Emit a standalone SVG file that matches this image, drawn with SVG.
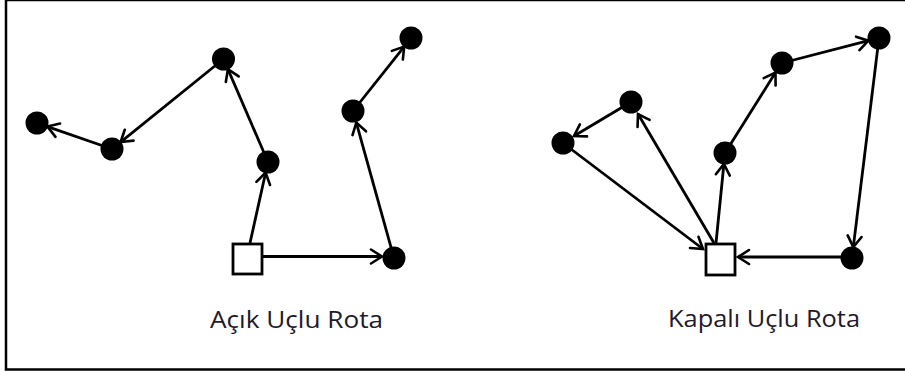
<svg xmlns="http://www.w3.org/2000/svg" width="905" height="371" viewBox="0 0 905 371">
  <defs>
    <marker id="open-arrow" markerUnits="userSpaceOnUse" markerWidth="22" markerHeight="22" refX="0" refY="0" viewBox="-13 -11 15 22" orient="auto">
      <path d="M -11 -7 L 0 0 L -11 7" fill="none" stroke="#000" stroke-width="2.6" stroke-linecap="round" stroke-linejoin="miter"/>
    </marker>
  </defs>
  <style>
    .frame { fill: none; stroke: #000; stroke-width: 2.5; }
    .edge { fill: none; stroke: #000; stroke-width: 2.8; marker-end: url(#open-arrow); }
    .stop { fill: #000; }
    .depot { fill: #fff; stroke: #000; stroke-width: 2.8; }
    .caption { font-family: "Open Sans", "Liberation Sans", sans-serif; font-size: 24px; fill: #1e1a2a; }
  </style>

  <rect class="frame" x="6" y="0" width="930" height="369.5"/>

  <!-- connectors -->
  <g id="connectors">
    <!-- open route -->
    <line class="edge" x1="250" y1="243" x2="265.6" y2="172.7"/>
    <line class="edge" x1="268" y1="162" x2="227.9" y2="69.1"/>
    <line class="edge" x1="223.5" y1="59" x2="120.6" y2="142.1"/>
    <line class="edge" x1="112" y1="149" x2="47.4" y2="126.6"/>
    <line class="edge" x1="262" y1="256.5" x2="382" y2="256.5"/>
    <line class="edge" x1="394" y1="258" x2="356.3" y2="122.6"/>
    <line class="edge" x1="353" y1="111" x2="404.2" y2="46.6"/>
    <!-- closed route -->
    <line class="edge" x1="716" y1="243" x2="723.9" y2="164"/>
    <line class="edge" x1="714" y1="243" x2="638" y2="114"/>
    <line class="edge" x1="563" y1="143" x2="703" y2="249"/>
    <line class="edge" x1="631" y1="102" x2="574" y2="136"/>
    <line class="edge" x1="725" y1="153" x2="775.5" y2="72.5"/>
    <line class="edge" x1="782" y1="63" x2="868.4" y2="40.7"/>
    <line class="edge" x1="879" y1="38" x2="853.3" y2="247.1"/>
    <line class="edge" x1="852" y1="257" x2="738" y2="257"/>
  </g>

  <!-- open route nodes -->
  <g id="open-depot"><rect class="depot" x="233" y="244" width="29" height="30"/></g>
  <g id="open-a"><circle class="stop" cx="37" cy="123" r="11.5"/></g>
  <g id="open-b"><circle class="stop" cx="112" cy="149" r="11.5"/></g>
  <g id="open-c"><circle class="stop" cx="223.5" cy="59" r="11.5"/></g>
  <g id="open-d"><circle class="stop" cx="268" cy="162" r="11.5"/></g>
  <g id="open-e"><circle class="stop" cx="394" cy="258" r="11.5"/></g>
  <g id="open-f"><circle class="stop" cx="353" cy="111" r="11.5"/></g>
  <g id="open-g"><circle class="stop" cx="411" cy="38" r="11.5"/></g>

  <!-- closed route nodes -->
  <g id="closed-depot"><rect class="depot" x="706" y="244" width="29" height="31"/></g>
  <g id="closed-h"><circle class="stop" cx="563" cy="143" r="11.5"/></g>
  <g id="closed-i"><circle class="stop" cx="631" cy="102" r="11.5"/></g>
  <g id="closed-j"><circle class="stop" cx="725" cy="153" r="11.5"/></g>
  <g id="closed-k"><circle class="stop" cx="782" cy="63" r="11.5"/></g>
  <g id="closed-l"><circle class="stop" cx="879" cy="38" r="11.5"/></g>
  <g id="closed-m"><circle class="stop" cx="852" cy="258" r="11.5"/></g>

  <g id="captions">
    <text class="caption" x="210" y="328" textLength="173" lengthAdjust="spacingAndGlyphs">Açık Uçlu Rota</text>
    <text class="caption" x="668" y="327" textLength="192" lengthAdjust="spacingAndGlyphs">Kapalı Uçlu Rota</text>
  </g>
</svg>
